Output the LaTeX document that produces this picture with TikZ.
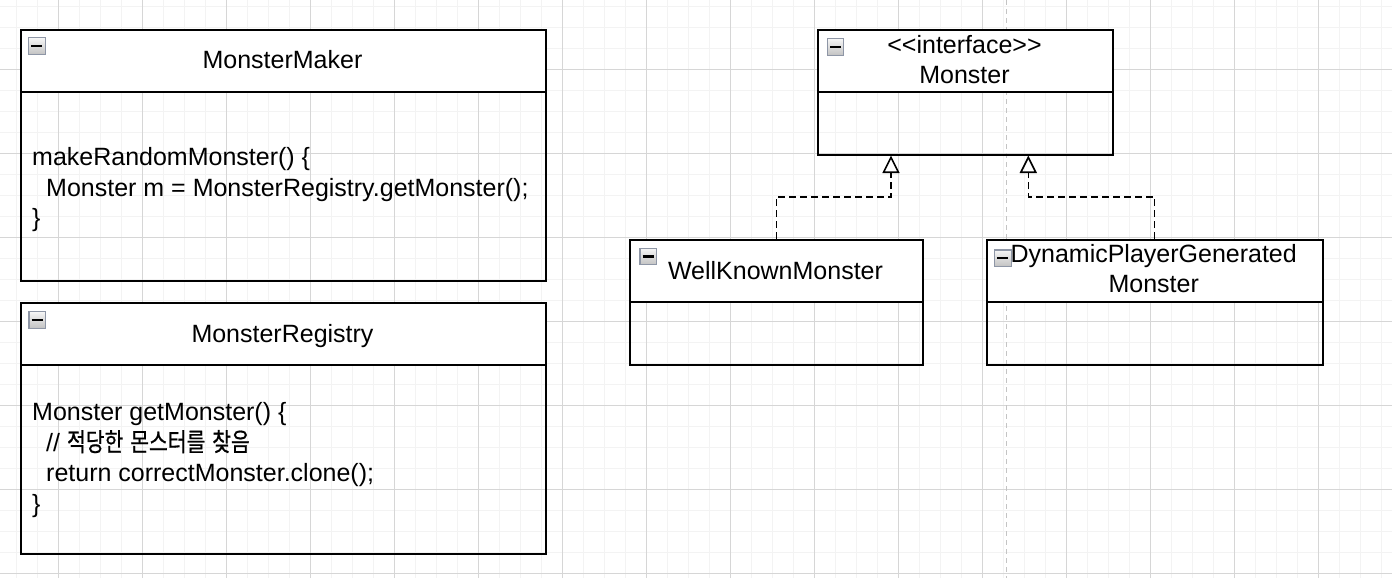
\documentclass[tikz,border=0pt]{standalone}
\usepackage{fontspec}
\setmainfont{Liberation Sans}
\newfontfamily\krfont[Scale=1.02,FakeStretch=0.8,FakeBold=0.6]{Noto Sans CJK KR}
\usetikzlibrary{arrows.meta,shadings,calc}
\definecolor{gridminor}{HTML}{F3F3F3}
\definecolor{gridmajor}{HTML}{D6D6D6}
\definecolor{pagebreak}{HTML}{C4C4C4}
\definecolor{iconborder}{HTML}{8E96A6}
\definecolor{icontop}{HTML}{F6F6F6}
\definecolor{iconbottom}{HTML}{C2C2C2}
\begin{document}
\begin{tikzpicture}[x=1pt,y=-1pt,
  hdr/.style={draw=black, line width=1.9pt, fill=white, inner sep=0pt, anchor=north west},
  bodybox/.style={draw=black, line width=1.9pt, inner sep=0pt, anchor=north west},
  ttl/.style={font=\fontsize{25}{30}\selectfont, anchor=base, inner sep=0pt},
  codeline/.style={font=\fontsize{25}{30}\selectfont, anchor=base west, inner sep=0pt},
  icon/.style={draw=iconborder, line width=1.2pt, top color=icontop, bottom color=iconbottom,
    minimum size=16.5pt, inner sep=0pt, anchor=north west,
    path picture={\draw[black, line width=2.4pt]
      ([xshift=-5.5pt]path picture bounding box.center) -- ([xshift=5.5pt]path picture bounding box.center);}},
  dep/.style={draw=black, line width=1.4pt, dash pattern=on 7pt off 4pt,
    -{Triangle[open, length=17.5pt, width=17pt, line width=1.6pt]}}
]
\useasboundingbox (0,0) rectangle (1392,578);
\fill[white] (0,0) rectangle (1392,578);
% grid
\foreach \i in {0,...,66} \draw[gridminor, line width=1.2pt] (16.3+21*\i,0) -- (16.3+21*\i,578);
\foreach \j in {0,...,27} \draw[gridminor, line width=1.2pt] (0,6.3+21*\j) -- (1392,6.3+21*\j);
\foreach \i in {0,...,15} \draw[gridmajor, line width=1pt] (58.3+84*\i,0) -- (58.3+84*\i,578);
\foreach \j in {0,...,6} \draw[gridmajor, line width=1pt] (0,69.3+84*\j) -- (1392,69.3+84*\j);
% page break
\draw[pagebreak, line width=1.3pt, dash pattern=on 5pt off 4pt] (1006.7,0) -- (1006.7,578);

% MonsterMaker
\node[bodybox, minimum width=525pt, minimum height=189pt] (mm-b) at (20,91) {};
\node[hdr, minimum width=525pt, minimum height=62pt] (mm-h) at (20,29) {};
\node[icon] (mm-i) at (28,37.3) {};
\node[ttl] (mm-t) at (282.5,69) {MonsterMaker};
\node[codeline] (mm-c1) at (32,165.7) {makeRandomMonster() \{};
\node[codeline] (mm-c2) at (46,196.2) {Monster m = MonsterRegistry.getMonster();};
\node[codeline] (mm-c3) at (32,226.7) {\}};

% MonsterRegistry
\node[bodybox, minimum width=525pt, minimum height=189pt] (mr-b) at (20,364) {};
\node[hdr, minimum width=525pt, minimum height=62pt] (mr-h) at (20,302) {};
\node[icon] (mr-i) at (28.3,311) {};
\node[ttl] (mr-t) at (282.5,342) {MonsterRegistry};
\node[codeline] (mr-c1) at (32,420.7) {Monster getMonster() \{};
\node[codeline] (mr-c2) at (46,451.2) {// {\krfont 적당한} {\krfont 몬스터를} {\krfont 찾음}};
\node[codeline] (mr-c3) at (46,481.7) {return correctMonster.clone();};
\node[codeline] (mr-c4) at (32,512.2) {\}};

% Monster interface
\node[bodybox, minimum width=294.4pt, minimum height=63.3pt] (mon-b) at (817.3,91) {};
\node[hdr, minimum width=294.4pt, minimum height=62pt] (mon-h) at (817.3,29) {};
\node[icon] (mon-i) at (826.7,38.3) {};
\node[ttl] (mon-t1) at (964.5,53.3) {<{}<interface>{}>};
\node[ttl] (mon-t2) at (964.5,83.3) {Monster};

% WellKnownMonster
\node[bodybox, minimum width=293.6pt, minimum height=63pt] (wkm-b) at (628.7,301) {};
\node[hdr, minimum width=293.6pt, minimum height=62pt] (wkm-h) at (628.7,239) {};
\node[icon] (wkm-i) at (639.3,247.7) {};
\node[ttl] (wkm-t) at (775.5,279.3) {WellKnownMonster};

% DynamicPlayerGeneratedMonster
\node[bodybox, minimum width=336pt, minimum height=63pt] (dpg-b) at (985.7,301) {};
\node[hdr, minimum width=336pt, minimum height=62pt] (dpg-h) at (985.7,239) {};
\node[icon] (dpg-i) at (994,249.3) {};
\node[ttl] (dpg-t1) at (1153.7,262.3) {DynamicPlayerGenerated};
\node[ttl] (dpg-t2) at (1153.7,292.3) {Monster};

% connectors
\coordinate (a1) at (891,155.5);
\coordinate (b1) at (891,197);
\coordinate (a2) at (1028.3,155.5);
\coordinate (b2) at (1028.3,197);
\draw[dep] (wkm-h.north) |- (b1) -- (a1);
\draw[dep] (dpg-h.north) |- (b2) -- (a2);
\end{tikzpicture}
\end{document}
